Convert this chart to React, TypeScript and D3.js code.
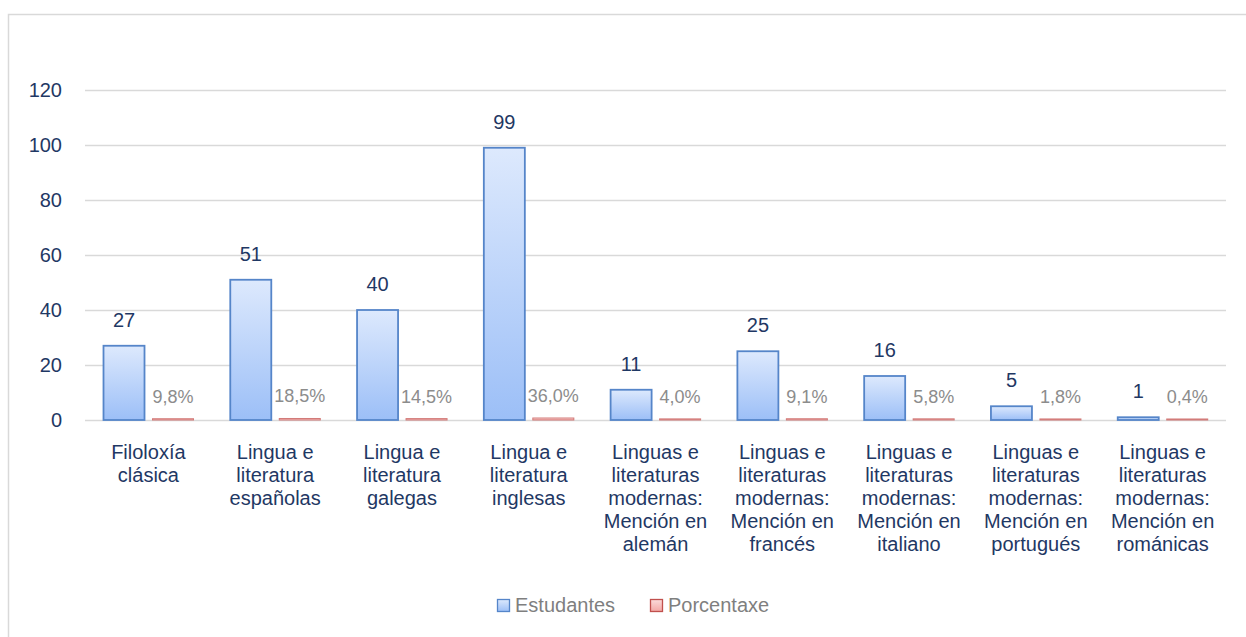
import React, { useEffect, useRef } from "react";
import * as d3 from "d3";

const categories = [
  ["Filoloxía", "clásica"],
  ["Lingua e", "literatura", "españolas"],
  ["Lingua e", "literatura", "galegas"],
  ["Lingua e", "literatura", "inglesas"],
  ["Linguas e", "literaturas", "modernas:", "Mención en", "alemán"],
  ["Linguas e", "literaturas", "modernas:", "Mención en", "francés"],
  ["Linguas e", "literaturas", "modernas:", "Mención en", "italiano"],
  ["Linguas e", "literaturas", "modernas:", "Mención en", "portugués"],
  ["Linguas e", "literaturas", "modernas:", "Mención en", "románicas"],
];
const estudantes = [27, 51, 40, 99, 11, 25, 16, 5, 1];
const porcentaxe = [0.098, 0.185, 0.145, 0.36, 0.04, 0.091, 0.058, 0.018, 0.004];
const yTicks = [0, 20, 40, 60, 80, 100, 120];
const seriesNames = ["Estudantes", "Porcentaxe"];

const FONT = "'Liberation Sans', Arial, sans-serif";
const NAVY = "#1f3864";

export default function App() {
  const ref = useRef<SVGSVGElement>(null);

  useEffect(() => {
    const svg = d3.select(ref.current);
    svg.selectAll("*").remove();

    const left = 85, right = 1226, top = 90, bottom = 420;
    const x = d3.scaleBand().domain(categories.map((_, i) => String(i))).range([left, right]);
    const inner = d3.scaleBand().domain(["0", "1"]).range([18.5, 108.5]).paddingInner(0.163);
    const y = d3.scaleLinear().domain([0, 120]).range([bottom, top]);

    const defs = svg.append("defs");
    const gb = defs.append("linearGradient").attr("id", "gBlue").attr("x1", 0).attr("y1", 0).attr("x2", 0).attr("y2", 1);
    gb.append("stop").attr("offset", "0%").attr("stop-color", "#dde9fd");
    gb.append("stop").attr("offset", "100%").attr("stop-color", "#9cbff7");
    const gr = defs.append("linearGradient").attr("id", "gRed").attr("x1", 0).attr("y1", 0).attr("x2", 0).attr("y2", 1);
    gr.append("stop").attr("offset", "0%").attr("stop-color", "#fbdcdb");
    gr.append("stop").attr("offset", "100%").attr("stop-color", "#f3a7a5");

    // chart frame
    svg.append("rect").attr("x", 8.5).attr("y", 14.5).attr("width", 1260).attr("height", 640)
      .attr("fill", "#fff").attr("stroke", "#d9d9d9").attr("stroke-width", 1.5);

    // grid
    svg.append("g").selectAll("line").data(yTicks).enter().append("line")
      .attr("x1", left).attr("x2", right)
      .attr("y1", (d) => Math.round(y(d)) + 0.5).attr("y2", (d) => Math.round(y(d)) + 0.5)
      .attr("stroke", "#d9d9d9").attr("stroke-width", 1.5);

    svg.append("g").selectAll("text").data(yTicks).enter().append("text")
      .attr("x", 62).attr("y", (d) => y(d)).attr("dy", "0.36em").attr("text-anchor", "end")
      .attr("font-family", FONT).attr("font-size", 20).attr("fill", NAVY).text((d) => d);

    const groups = svg.append("g").selectAll("g").data(categories).enter().append("g")
      .attr("transform", (_, i) => `translate(${x(String(i))},0)`);

    groups.append("rect")
      .attr("x", inner("0")!).attr("width", inner.bandwidth())
      .attr("y", (_, i) => y(estudantes[i])).attr("height", (_, i) => y(0) - y(estudantes[i]))
      .attr("fill", "url(#gBlue)").attr("stroke", "#5585c9").attr("stroke-width", 1.8);

    groups.append("rect")
      .attr("x", inner("1")!).attr("width", inner.bandwidth())
      .attr("y", (_, i) => y(porcentaxe[i]) - 1).attr("height", (_, i) => y(0) - y(porcentaxe[i]) + 1)
      .attr("fill", "url(#gRed)").attr("stroke", "#d27a78").attr("stroke-width", 1);

    groups.append("text")
      .attr("x", inner("0")! + inner.bandwidth() / 2).attr("y", (_, i) => y(estudantes[i]) - 19)
      .attr("text-anchor", "middle").attr("font-family", FONT).attr("font-size", 20).attr("fill", NAVY)
      .text((_, i) => estudantes[i]);

    groups.append("text")
      .attr("x", inner("1")! + inner.bandwidth() / 2).attr("y", (_, i) => y(porcentaxe[i]) - 17)
      .attr("text-anchor", "middle").attr("font-family", FONT).attr("font-size", 18).attr("fill", "#8c8c8c")
      .text((_, i) => d3.format(".1f")(porcentaxe[i] * 100).replace(".", ",") + "%");

    const lbl = groups.append("text")
      .attr("text-anchor", "middle").attr("font-family", FONT).attr("font-size", 20).attr("fill", NAVY);
    lbl.selectAll("tspan").data((d) => d).enter().append("tspan")
      .attr("x", x.bandwidth() / 2).attr("y", (_, j) => 459 + j * 23).text((d) => d);

    // legend
    const lg = svg.append("g").attr("font-family", FONT).attr("font-size", 20).attr("fill", "#7f7f7f");
    const lx = [497, 650];
    const fills = ["url(#gBlue)", "url(#gRed)"];
    const strokes = ["#5585c9", "#c0504d"];
    seriesNames.forEach((s, i) => {
      lg.append("rect").attr("x", lx[i] + 0.5).attr("y", 599.5).attr("width", 12).attr("height", 12)
        .attr("fill", fills[i]).attr("stroke", strokes[i]).attr("stroke-width", 1.3);
      lg.append("text").attr("x", lx[i] + 18).attr("y", 605).attr("dy", "0.36em").text(s);
    });
  }, []);

  return (
    <svg ref={ref} width={1246} height={637} style={{ position: "absolute", left: 0, top: 0 }} />
  );
}
